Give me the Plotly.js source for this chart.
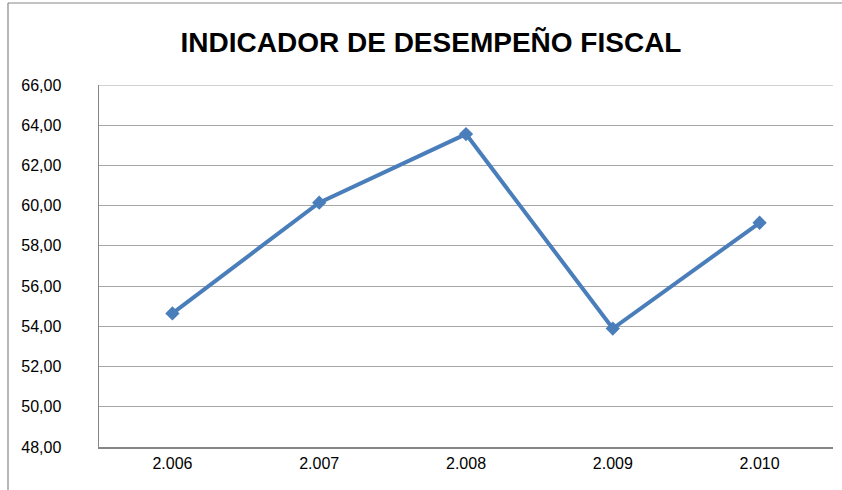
<!DOCTYPE html>
<html><head><meta charset="utf-8">
<script src="https://cdn.plot.ly/plotly-3.0.1.min.js"></script>
<style>html,body{margin:0;padding:0;background:#fff;}#chart{width:842px;height:490px;}</style>
</head><body><div id="chart"></div>
<script>
const years = ["2.006", "2.007", "2.008", "2.009", "2.010"];
const values = [54.64, 60.15, 63.56, 53.89, 59.15];
const yTicks = [48, 50, 52, 54, 56, 58, 60, 62, 64, 66];
const yTickText = yTicks.map(v => v.toFixed(2).replace('.', ','));

const fontFam = '"Liberation Sans Narrow", "Liberation Sans", Arial, sans-serif';
const L = 99, R = 833, T = 85, B = 447;
const pw = R - L, ph = B - T;

Plotly.newPlot('chart', [{
  x: years, y: values, type: 'scatter', mode: 'lines+markers',
  line: {color: '#4A7EBB', width: 4},
  marker: {symbol: 'diamond', size: 11, color: '#4A7EBB'},
  hoverinfo: 'none'
}], {
  width: 842, height: 490,
  margin: {l: L, r: 842 - R, t: T, b: 490 - B, pad: 0},
  paper_bgcolor: '#fff', plot_bgcolor: '#fff',
  showlegend: false,
  font: {family: fontFam, size: 16, color: '#000'},
  title: {text: '<b>INDICADOR DE DESEMPEÑO FISCAL</b>', font: {family: fontFam, size: 28, color: '#000'},
          x: 431 / 842, xref: 'container', xanchor: 'center', y: 1 - 42 / 490, yref: 'container', yanchor: 'middle'},
  xaxis: {type: 'category', range: [-0.5, 4.5], showgrid: false, showline: true, linecolor: '#868686', linewidth: 1.5,
          ticks: '', ticklabelstandoff: 1, tickfont: {size: 16}, zeroline: false, fixedrange: true},
  yaxis: {range: [48, 66], tickvals: yTicks, ticktext: yTickText, showgrid: true, gridcolor: '#A6A6A6', gridwidth: 1.2,
          showline: true, linecolor: '#868686', linewidth: 1.5, ticks: '', ticklabelstandoff: 33, zeroline: false,
          tickfont: {size: 16}, fixedrange: true},
  shapes: [
    {type: 'line', xref: 'paper', yref: 'y', x0: 0, x1: 1, y0: yTicks[yTicks.length - 1], y1: yTicks[yTicks.length - 1],
     line: {color: '#A6A6A6', width: 1.2}, layer: 'below'},
    {type: 'line', xref: 'paper', yref: 'paper', x0: (8 - L) / pw, x1: (8 - L) / pw, y0: (B - 490) / ph, y1: (B - 3) / ph,
     line: {color: '#868686', width: 1.2}},
    {type: 'line', xref: 'paper', yref: 'paper', x0: (8 - L) / pw, x1: (842 - L) / pw, y0: (B - 3) / ph, y1: (B - 3) / ph,
     line: {color: '#868686', width: 1.2}}
  ]
}, {displayModeBar: false, staticPlot: true});
</script></body></html>
